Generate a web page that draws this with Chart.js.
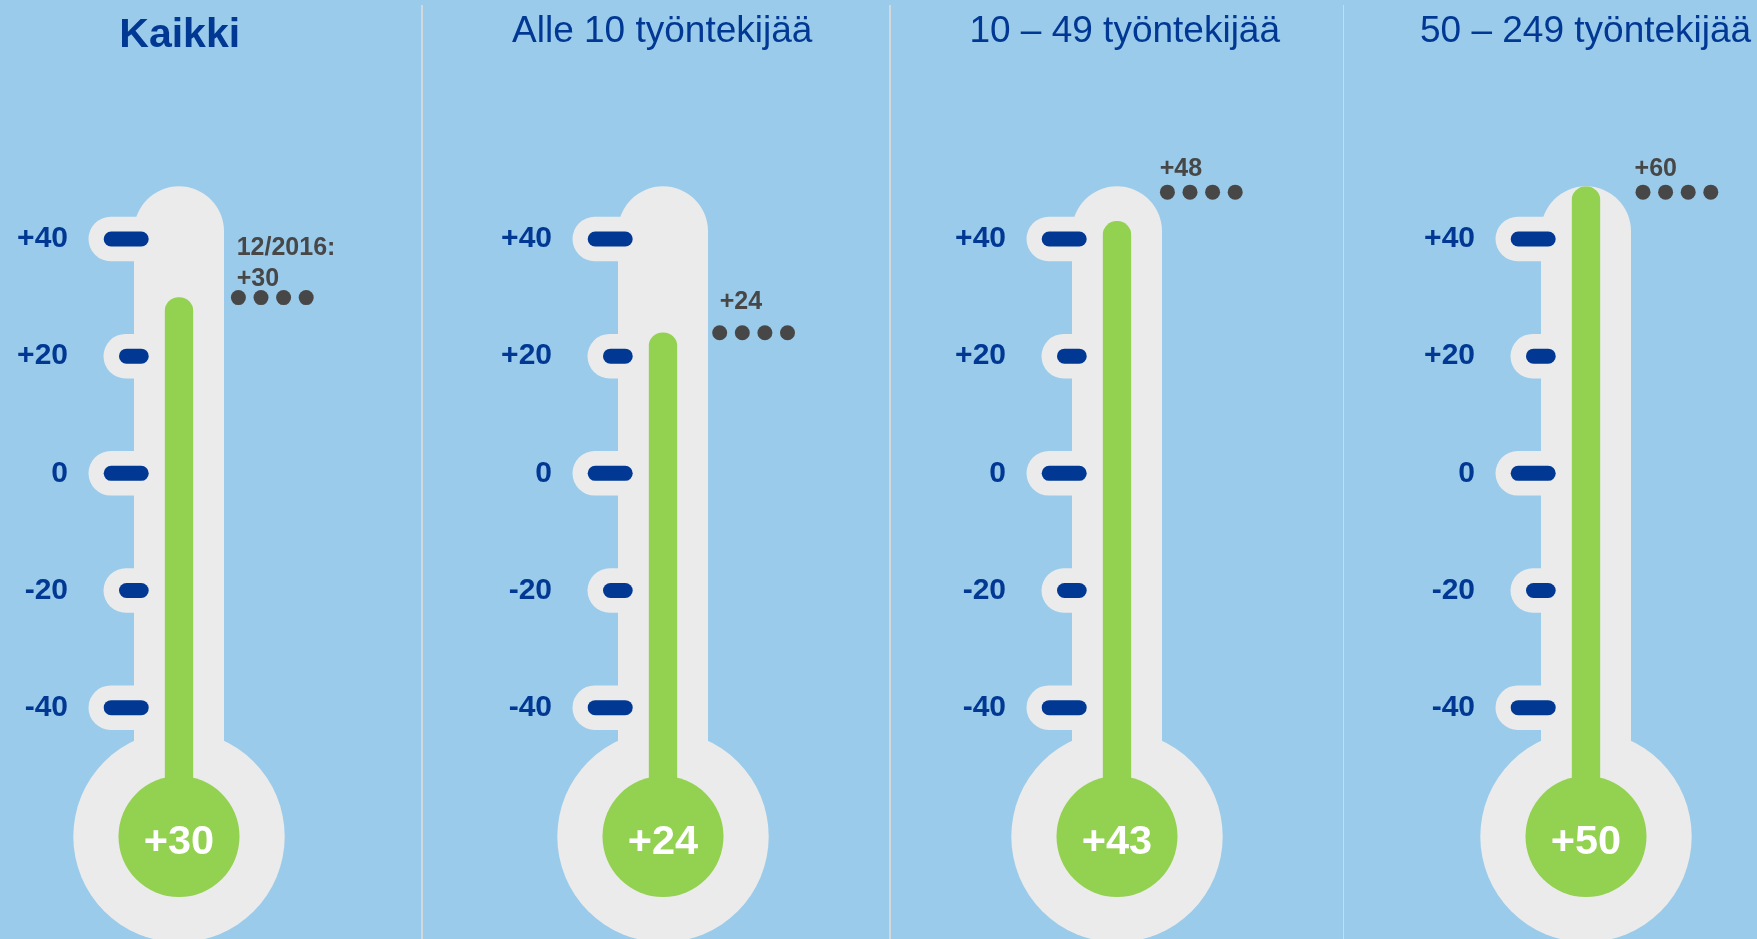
<!DOCTYPE html>
<html>
<head>
<meta charset="utf-8">
<script src="https://cdn.jsdelivr.net/npm/chart.js@4.4.1/dist/chart.umd.min.js"></script>
<style>
  html, body { margin: 0; padding: 0; width: 1757px; height: 939px; overflow: hidden; background: #9BCBEA; }
  #stage { position: relative; width: 1757px; height: 939px; overflow: hidden; }
  #stage canvas { position: absolute; top: 0; }
  .sep { position: absolute; top: 5px; bottom: 0; width: 1.5px; background: #D3D8DD; }
</style>
</head>
<body>
<div id="stage"></div>
<script>
// ---- data ----
const groups = ['Kaikki', 'Alle 10 työntekijää', '10 – 49 työntekijää', '50 – 249 työntekijää'];
const balance = [30, 24, 43, 50];      // current balance figure per company size
const previous = [30, 24, 48, 60];     // figure of the previous survey
const previousPeriod = '12/2016';
const tickValues = [-40, -20, 0, 20, 40];
const tickLabels = ['-40', '-20', '0', '+20', '+40'];

// ---- layout & style ----
const Y_MIN = -62;              // bulb centre level
const Y_MAX = 49;               // top of the tube
const tubeCenters = [179.3, 663.3, 1117, 1585.7];
const separators = [422, 890, 1343.3];
const titleShift = [0.7, -0.8, 7.7, -0.4];
const noteTextShift = [12.7, 11.7, -2.3, 3.6];   // note text x from tube right edge
const noteDotShift = [14.4, 11.7, 5.4, 12];      // first dot centre from tube right edge
const noteLift = [12, 24, 16.6, 16.6];           // last note baseline above the dot row

const FONT = "'Liberation Sans', Arial, Helvetica, sans-serif";
const BLUE = '#003893';
const GREEN = '#93D150';
const GRAY = '#EBEBEB';
const DARK = '#474747';
const TUBE_R = 45;
const BULB_R = 105.7;
const GREEN_BULB_R = 60.5;
const HALF_W = 180;

const fmt = v => (v > 0 ? '+' : '') + v;

function pill(ctx, x, yc, w, h, color) {
  const r = h / 2;
  ctx.fillStyle = color;
  ctx.beginPath();
  ctx.arc(x + r, yc, r, Math.PI / 2, Math.PI * 1.5);
  ctx.arc(x + w - r, yc, r, -Math.PI / 2, Math.PI / 2);
  ctx.closePath();
  ctx.fill();
}

function thermometer(i) {
  return {
    id: 'thermometer' + i,
    beforeDatasetsDraw(chart) {
      const { ctx, chartArea: a, scales: { y } } = chart;
      const cx = chart.getDatasetMeta(0).data[0].x;
      const tl = cx - TUBE_R, tr = cx + TUBE_R;
      ctx.save();
      // glass: tube with rounded head and the bulb
      ctx.fillStyle = GRAY;
      ctx.beginPath();
      ctx.moveTo(tl, a.bottom);
      ctx.lineTo(tl, a.top + TUBE_R);
      ctx.arc(cx, a.top + TUBE_R, TUBE_R, Math.PI, 0);
      ctx.lineTo(tr, a.bottom);
      ctx.closePath();
      ctx.fill();
      ctx.beginPath();
      ctx.arc(cx, a.bottom, BULB_R, 0, Math.PI * 2);
      ctx.fill();
      // scale marks at the axis ticks
      y.ticks.forEach(t => {
        const py = y.getPixelForValue(t.value);
        const major = t.value % 40 === 0;
        const back = major ? 45.5 : 30.5;
        pill(ctx, tl - back, py, back + 30, 44.5, GRAY);
        const front = major ? 30.3 : 15;
        pill(ctx, tl - front, py, front + 14.7, 15, BLUE);
      });
      ctx.restore();
    },
    // keep the liquid inside the capillary: a capsule with a rounded head at the tube top
    beforeDatasetDraw(chart) {
      const { ctx, chartArea: a } = chart;
      const bar = chart.getDatasetMeta(0).data[0];
      const cx = bar.x, r = bar.width / 2 + 0.5;
      ctx.save();
      ctx.beginPath();
      ctx.moveTo(cx - r, a.bottom);
      ctx.lineTo(cx - r, a.top + r);
      ctx.arc(cx, a.top + r, r, Math.PI, 0);
      ctx.lineTo(cx + r, a.bottom);
      ctx.closePath();
      ctx.clip();
    },
    afterDatasetDraw(chart) {
      chart.ctx.restore();
    },
    afterDatasetsDraw(chart) {
      const { ctx, chartArea: a, scales: { y } } = chart;
      const cx = chart.getDatasetMeta(0).data[0].x;
      const tr = cx + TUBE_R;
      ctx.save();
      // green bulb with the current value
      ctx.fillStyle = GREEN;
      ctx.beginPath();
      ctx.arc(cx, a.bottom, GREEN_BULB_R, 0, Math.PI * 2);
      ctx.fill();
      ctx.fillStyle = '#FFFFFF';
      ctx.font = 'bold 41.5px ' + FONT;
      ctx.textAlign = 'center';
      ctx.textBaseline = 'alphabetic';
      ctx.fillText(fmt(balance[i]), cx, a.bottom + 17.3);

      // previous figure: row of dots and its label
      const shown = Math.min(previous[i], Y_MAX - 1);
      const dy = y.getPixelForValue(shown);
      ctx.fillStyle = DARK;
      for (let k = 0; k < 4; k++) {
        ctx.beginPath();
        ctx.arc(tr + noteDotShift[i] + k * 22.6, dy, 7.5, 0, Math.PI * 2);
        ctx.fill();
      }
      const lines = i === 0 ? [previousPeriod + ':', fmt(previous[i])] : [fmt(previous[i])];
      ctx.font = 'bold 25px ' + FONT;
      ctx.textAlign = 'left';
      const baseY = dy - noteLift[i];
      lines.forEach((s, k) => {
        ctx.fillText(s, tr + noteTextShift[i], baseY - (lines.length - 1 - k) * 31);
      });

      // panel heading
      ctx.fillStyle = BLUE;
      ctx.textAlign = 'center';
      if (i === 0) {
        ctx.font = 'bold 41px ' + FONT;
        ctx.fillText(groups[i], cx + titleShift[i], 46.7);
      } else {
        ctx.font = '37px ' + FONT;
        ctx.fillText(groups[i], cx + titleShift[i], 41.7);
      }
      ctx.restore();
    }
  };
}

const stage = document.getElementById('stage');

separators.forEach(x => {
  const d = document.createElement('div');
  d.className = 'sep';
  d.style.left = (x - 0.75) + 'px';
  stage.appendChild(d);
});

groups.forEach((g, i) => {
  const cv = document.createElement('canvas');
  cv.width = HALF_W * 2;
  cv.height = 939;
  cv.style.left = (tubeCenters[i] - HALF_W) + 'px';
  stage.appendChild(cv);

  new Chart(cv, {
    type: 'bar',
    data: {
      labels: [g],
      datasets: [{
        data: [balance[i]],
        base: Y_MIN,
        backgroundColor: GREEN,
        barThickness: 28,
        borderRadius: 14,
        borderSkipped: 'start'
      }]
    },
    options: {
      responsive: false,
      animation: false,
      devicePixelRatio: 1,
      layout: { padding: { top: 186.3, bottom: 102.5, left: 0, right: 0 } },
      plugins: {
        legend: { display: false },
        tooltip: { enabled: false },
        title: { display: false }
      },
      scales: {
        x: { display: false },
        y: {
          position: 'left',
          min: Y_MIN,
          max: Y_MAX,
          afterBuildTicks: s => { s.ticks = tickValues.map(v => ({ value: v })); },
          afterFit: s => { s.width = 120; },
          grid: { display: false, drawTicks: false },
          border: { display: false },
          ticks: {
            padding: 51,
            autoSkip: false,
            color: BLUE,
            font: { family: FONT, size: 30, weight: 'bold' },
            callback: v => tickLabels[tickValues.indexOf(v)]
          }
        },
        y2: {
          position: 'right',
          min: Y_MIN,
          max: Y_MAX,
          afterFit: s => { s.width = 120; },
          grid: { display: false, drawTicks: false },
          border: { display: false },
          ticks: { display: false }
        }
      }
    },
    plugins: [thermometer(i)]
  });
});
</script>
</body>
</html>
